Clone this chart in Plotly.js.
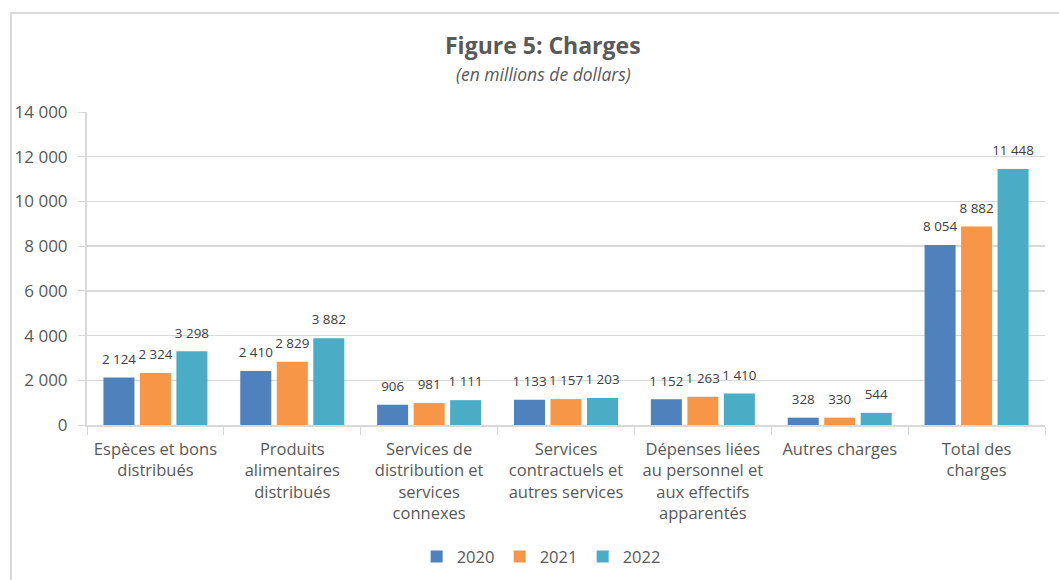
<!DOCTYPE html>
<html>
<head>
<meta charset="utf-8">
<script src="https://cdn.plot.ly/plotly-3.0.1.min.js"></script>
<style>
  html, body { margin: 0; padding: 0; background: #fff; }
  #wrap { position: relative; width: 1059px; height: 580px; }
  #chart { position: absolute; left: 0; top: 0; width: 1059px; height: 580px; }
  #frame { position: absolute; left: 10px; top: 12px; right: -4px; bottom: -4px;
           border-left: 2px solid #d9d9d9; border-top: 2px solid #d9d9d9; pointer-events: none; }
</style>
</head>
<body>
<div id="wrap">
  <div id="chart"></div>
  <div id="frame"></div>
</div>
<script>
const categories = [
  "Espèces et bons<br>distribués",
  "Produits<br>alimentaires<br>distribués",
  "Services de<br>distribution et<br>services<br>connexes",
  "Services<br>contractuels et<br>autres services",
  "Dépenses liées<br>au personnel et<br>aux effectifs<br>apparentés",
  "Autres charges",
  "Total des<br>charges"
];
const seriesNames = ["2020", "2021", "2022"];
const values2020 = [2124, 2410, 906, 1133, 1152, 328, 8054];
const values2021 = [2324, 2829, 981, 1157, 1263, 330, 8882];
const values2022 = [3298, 3882, 1111, 1203, 1410, 544, 11448];
const seriesColors = ["#4f81bd", "#f79646", "#4bacc6"];
const yTickVals = [0, 2000, 4000, 6000, 8000, 10000, 12000, 14000];

const font = "'Open Sans', 'Noto Sans', sans-serif";
const allValues = [values2020, values2021, values2022];

const barTraces = allValues.map((vals, i) => ({
  type: "bar",
  name: seriesNames[i],
  x: categories,
  y: vals,
  offsetgroup: "g" + i,
  marker: { color: seriesColors[i] },
  hoverinfo: "x+y"
}));

const labelTraces = allValues.map((vals, i) => ({
  type: "scatter",
  mode: "markers+text",
  orientation: "v",
  offsetgroup: "g" + i,
  x: categories,
  y: vals,
  marker: { size: 15, opacity: 0, color: seriesColors[i] },
  texttemplate: "%{y:,}",
  textposition: "top center",
  textfont: { family: font, size: 13.4, color: "#404040" },
  cliponaxis: false,
  showlegend: false,
  hoverinfo: "skip"
}));

const layout = {
  width: 1059,
  height: 580,
  separators: ", ",
  paper_bgcolor: "#ffffff",
  plot_bgcolor: "#ffffff",
  font: { family: font, color: "#595959" },
  margin: { l: 87, r: 14, t: 112, b: 155 },
  barmode: "group",
  bargap: 0.2,
  bargroupgap: 0.15,
  scattermode: "group",
  scattergap: 0.2,
  showlegend: true,
  legend: {
    orientation: "h",
    xref: "container", yref: "container",
    x: 0.511, xanchor: "center",
    y: 0.04, yanchor: "middle",
    font: { family: font, size: 16.5, color: "#595959" },
    itemwidth: 30,
    entrywidth: 38,
    traceorder: "normal"
  },
  xaxis: {
    type: "category",
    tickson: "boundaries",
    ticks: "outside",
    ticklen: 8,
    tickcolor: "#d9d9d9",
    showline: true,
    linecolor: "#d9d9d9",
    linewidth: 2,
    tickangle: 0,
    ticklabelstandoff: 8,
    tickfont: { family: font, size: 16.5, color: "#595959" },
    showgrid: false,
    zeroline: false
  },
  yaxis: {
    range: [0, 14000],
    tickvals: yTickVals,
    tickformat: ",",
    ticks: "outside",
    ticklen: 7,
    tickcolor: "#d9d9d9",
    showline: true,
    linecolor: "#d9d9d9",
    linewidth: 2,
    gridcolor: "#d9d9d9",
    gridwidth: 1.5,
    zeroline: false,
    ticklabelstandoff: 7,
    tickfont: { family: font, size: 17, color: "#595959" }
  },
  annotations: [
    {
      text: "<b>Figure 5: Charges</b>",
      xref: "paper", yref: "paper",
      x: 0.476, y: 1.215, xanchor: "center", yanchor: "middle",
      showarrow: false,
      font: { family: font, size: 23, color: "#595959" }
    },
    {
      text: "<i>(en millions de dollars)</i>",
      xref: "paper", yref: "paper",
      x: 0.476, y: 1.122, xanchor: "center", yanchor: "middle",
      showarrow: false,
      font: { family: font, size: 17.5, color: "#595959" }
    }
  ]
};

Plotly.newPlot("chart", barTraces.concat(labelTraces), layout, { displayModeBar: false, staticPlot: true });
</script>
</body>
</html>
